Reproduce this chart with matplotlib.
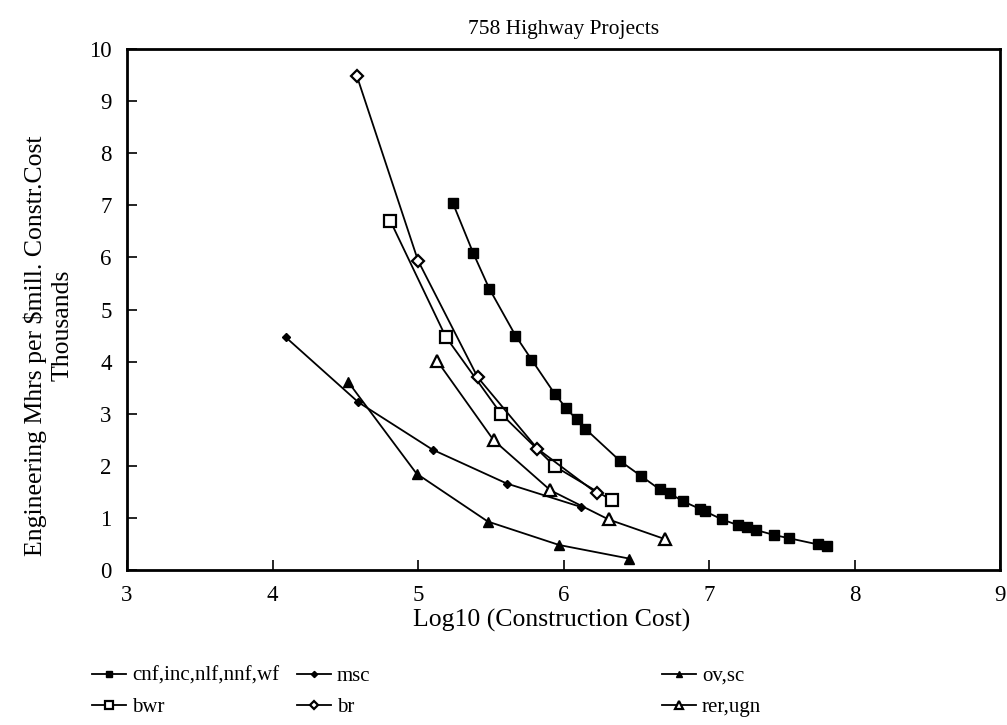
import matplotlib
matplotlib.use("Agg")
import matplotlib.pyplot as plt
from matplotlib.lines import Line2D

plt.rcParams['font.family'] = ['Liberation Serif', 'DejaVu Serif']

# ---- data ----
cnf_x = [5.24, 5.38, 5.49, 5.67, 5.78, 5.94, 6.02, 6.09, 6.15, 6.39, 6.53, 6.66, 6.73,
         6.82, 6.94, 6.97, 7.09, 7.20, 7.26, 7.32, 7.45, 7.55, 7.75, 7.81]
cnf_y = [7.04, 6.08, 5.40, 4.50, 4.04, 3.38, 3.10, 2.89, 2.71, 2.09, 1.81, 1.55, 1.47,
         1.32, 1.17, 1.13, 0.97, 0.86, 0.82, 0.77, 0.67, 0.61, 0.49, 0.46]
msc_x = [4.09, 4.59, 5.10, 5.61, 6.12]
msc_y = [4.47, 3.22, 2.31, 1.66, 1.21]
ov_x = [4.52, 4.99, 5.48, 5.97, 6.45]
ov_y = [3.61, 1.85, 0.93, 0.48, 0.22]
bwr_x = [4.81, 5.19, 5.57, 5.94, 6.33]
bwr_y = [6.70, 4.48, 3.00, 1.99, 1.34]
br_x = [4.58, 5.00, 5.41, 5.82, 6.23]
br_y = [9.48, 5.94, 3.70, 2.33, 1.47]
rer_x = [5.13, 5.52, 5.91, 6.31, 6.70]
rer_y = [4.02, 2.49, 1.53, 0.97, 0.59]

x_ticks = [3, 4, 5, 6, 7, 8, 9]
y_ticks = [0, 1, 2, 3, 4, 5, 6, 7, 8, 9, 10]

title = "758 Highway Projects"
xlabel = "Log10 (Construction Cost)"
ylabel1 = r"Engineering Mhrs per \$mill. Constr.Cost"
ylabel2 = "Thousands"

fig = plt.figure(figsize=(10.07, 7.25), dpi=100)
ax = fig.add_axes([127/1007, 1-570/725, (1000-127)/1007, (570-49)/725])

lw = 1.3
styles = {
    'cnf': dict(marker='s', ms=7, mfc='black', mec='black'),
    'msc': dict(marker='D', ms=4.5, mfc='black', mec='black'),
    'ov':  dict(marker='^', ms=7, mfc='black', mec='black'),
    'bwr': dict(marker='s', ms=8, mfc='white', mec='black', mew=1.6),
    'br':  dict(marker='D', ms=6.5, mfc='white', mec='black', mew=1.6),
    'rer': dict(marker='^', ms=8, mfc='white', mec='black', mew=1.6),
}
series = [
    ('cnf', cnf_x, cnf_y, 'cnf,inc,nlf,nnf,wf'),
    ('msc', msc_x, msc_y, 'msc'),
    ('ov', ov_x, ov_y, 'ov,sc'),
    ('bwr', bwr_x, bwr_y, 'bwr'),
    ('br', br_x, br_y, 'br'),
    ('rer', rer_x, rer_y, 'rer,ugn'),
]
handles = {}
for key, xs, ys, lab in series:
    h, = ax.plot(xs, ys, color='black', lw=lw, **styles[key], label=lab)
    handles[key] = h

ax.set_xlim(3, 9)
ax.set_ylim(0, 10)
ax.set_xticks(x_ticks)
ax.set_yticks(y_ticks)
ax.tick_params(direction='in', length=7, width=1.2, labelsize=16.5, pad=11)
for s in ax.spines.values():
    s.set_linewidth(2)
ax.set_title(title, fontsize=15.5, pad=11)

fig.text(552/1007, 1-620/725, xlabel, ha='center', va='center', fontsize=18.5)
fig.text(35/1007, 1-346/725, ylabel1, rotation=90, ha='center', va='center', fontsize=18.5)
fig.text(63/1007, 1-325/725, ylabel2, rotation=90, ha='center', va='center', fontsize=18.5)

legend_cols = [(['cnf', 'bwr'], 82), (['msc', 'br'], 287), (['ov', 'rer'], 652)]
for keys, xpx in legend_cols:
    lg = fig.legend([handles[k] for k in keys], [handles[k].get_label() for k in keys],
                    loc='upper left', bbox_to_anchor=(xpx/1007, 1-656/725),
                    frameon=False, fontsize=15, handlelength=1.6, handletextpad=0.3,
                    labelspacing=0.55, borderpad=0, markerscale=0.7)

fig.savefig('out.png', dpi=100, facecolor='white')
